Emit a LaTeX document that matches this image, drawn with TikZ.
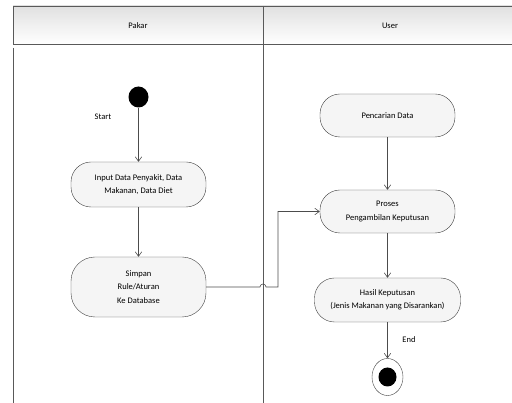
\documentclass[tikz,border=0pt]{standalone}
\usepackage{fontspec}
\setmainfont{Carlito}
\usetikzlibrary{arrows.meta,positioning,shapes.geometric}

\begin{document}
\begin{tikzpicture}[x=1pt, y=-1pt, every node/.style={font=\fontsize{8.5}{13.5}\selectfont},
  act/.style={draw=black!75,fill=black!4,rounded corners=20pt,align=center,minimum width=135pt,inner sep=2pt},
  flow/.style={draw=black!70,line width=0.6pt,-{Straight Barb[length=4.5pt,width=6.5pt]}},
  lane/.style={draw=black!65,line width=0.8pt}]
  \useasboundingbox (0,0) rectangle (512,403);

  % swimlanes
  \shade[top color=black!12,bottom color=white] (13,6) rectangle (512,44);
  \draw[lane] (512,6) -- (13,6) -- (13,44) -- (512,44);
  \draw[lane] (13,48) -- (13,403);
  \draw[lane] (263,6) -- (263,403);
  \node (pakar) at (138,26) {Pakar};
  \node (user) at (390,26) {User};

  % Pakar
  \node[ellipse,fill=black,minimum width=20pt,minimum height=21pt,inner sep=0pt] (start) at (138.5,97) {};
  \node (startlbl) at (103,117) {Start};
  \node[act,minimum height=45pt] (input) at (138.5,184.5) {Input Data Penyakit, Data\\Makanan, Data Diet};
  \node[act,minimum height=60pt,rounded corners=24pt] (simpan) at (138.5,287) {Simpan\\Rule/Aturan\\Ke Database};

  % User
  \node[act,minimum height=43pt] (cari) at (387.5,115.5) {Pencarian Data};
  \node[act,minimum height=43pt] (proses) at (387.5,211.5) {Proses\\Pengambilan Keputusan};
  \node[act,minimum height=44pt,minimum width=146pt] (hasil) at (387.5,300) {Hasil Keputusan\\(Jenis Makanan yang Disarankan)};
  \node[ellipse,draw=black!75,fill=white,minimum width=31pt,minimum height=37pt,inner sep=0pt] (end) at (387.5,377) {};
  \node[ellipse,fill=black,minimum width=18pt,minimum height=19pt,inner sep=0pt] (endin) at (end.center) {};
  \node (endlbl) at (409,340) {End};

  \coordinate (hop) at (263,287);

  \draw[flow] (start) -- (input);
  \draw[flow] (input) -- (simpan);
  \draw[flow] (simpan.east) -- ([xshift=-3pt]hop) arc[start angle=180,end angle=0,radius=3pt] -- ++(12,0) |- (proses.west);
  \draw[flow] (cari) -- (proses);
  \draw[flow] (proses) -- (hasil);
  \draw[flow] (hasil) -- (end);
\end{tikzpicture}
\end{document}
